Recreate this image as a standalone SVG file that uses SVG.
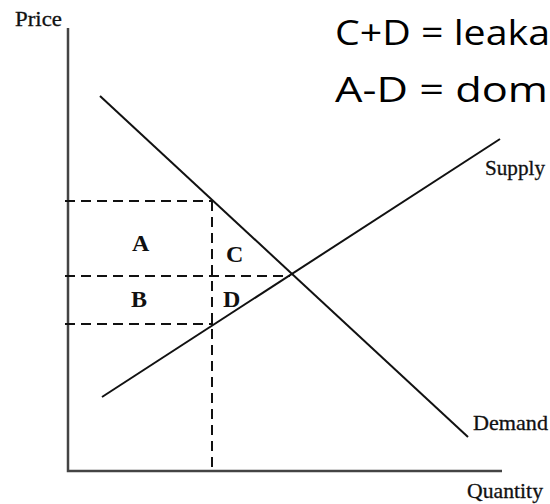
<svg xmlns="http://www.w3.org/2000/svg" width="550" height="504" viewBox="0 0 550 504">
<style>
.axis{stroke:#444;stroke-width:2.5;fill:none}
.curve{stroke:#111;stroke-width:2;fill:none}
.dash{stroke:#111;stroke-width:2;stroke-dasharray:10,6;fill:none}
.lbl{font-family:"Liberation Serif",serif;font-size:21px;fill:#111;stroke:#111;stroke-width:0.3}
.area{font-family:"Liberation Serif",serif;font-size:24px;font-weight:bold;fill:#111}
.note{font-family:"Open Sans","Liberation Sans",sans-serif;font-size:35px;fill:#000}
</style>
<rect width="550" height="504" fill="#fff"/>
<g id="axes">
<polyline class="axis" points="68,28 68,471 502,471"/>
</g>
<g id="connectors">
<line class="dash" x1="65" y1="201" x2="213" y2="201"/>
<line class="dash" x1="65" y1="276" x2="290" y2="276"/>
<line class="dash" x1="65" y1="324" x2="213" y2="324"/>
<line class="dash" x1="212" y1="201" x2="212" y2="471"/>
<line id="demand-line" class="curve" x1="100" y1="96" x2="468" y2="437"/>
<line id="supply-line" class="curve" x1="102" y1="397" x2="500" y2="139"/>
</g>
<g id="price-label"><text class="lbl" x="15" y="26" textLength="47" lengthAdjust="spacingAndGlyphs">Price</text></g>
<g id="quantity-label"><text class="lbl" x="467" y="498" textLength="76" lengthAdjust="spacingAndGlyphs">Quantity</text></g>
<g id="supply-label"><text class="lbl" x="485" y="175" textLength="60" lengthAdjust="spacingAndGlyphs">Supply</text></g>
<g id="demand-label"><text class="lbl" x="473" y="430" textLength="75" lengthAdjust="spacingAndGlyphs">Demand</text></g>
<g id="area-A"><text class="area" x="132" y="251">A</text></g>
<g id="area-B"><text class="area" x="131" y="307">B</text></g>
<g id="area-C"><text class="area" x="226" y="262">C</text></g>
<g id="area-D"><text class="area" x="223" y="307">D</text></g>
<g id="note1"><text class="note" x="335" y="45" textLength="215" lengthAdjust="spacingAndGlyphs">C+D = leaka</text></g>
<g id="note2"><text class="note" x="335" y="102" textLength="213" lengthAdjust="spacingAndGlyphs">A-D =  dom</text></g>
</svg>
